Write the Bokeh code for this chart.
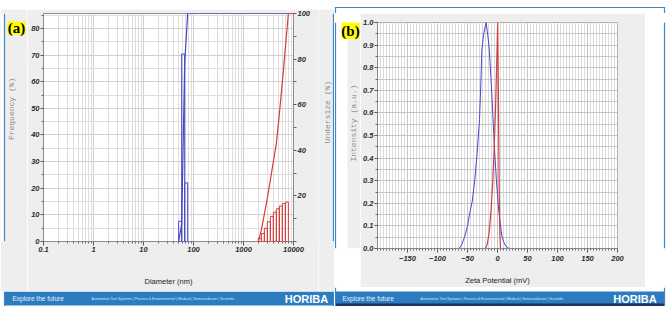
import math
from bokeh.plotting import figure
from bokeh.layouts import row, column
from bokeh.models import (Range1d, LinearAxis, FixedTicker, CustomJSTickFormatter,
                          PrintfTickFormatter)
from bokeh.core.properties import value
from bokeh.embed import file_html
from bokeh.resources import INLINE

# ---------------- (a) particle size distribution ----------------
size_ticks = [0.1, 1, 10, 100, 1000, 10000]
freq_ticks = [0, 10, 20, 30, 40, 50, 60, 70, 80]
under_ticks = [20, 40, 60, 80, 100]

# narrow population (blue): bin edges (nm) and frequency (%)
blue_edges = [50.5, 58.0, 66.6, 76.5]
blue_freq = [7.6, 70.4, 22.0]
# cumulative undersize (%) at diameters (nm)
blue_under_d = [50.5, 58.0, 66.6, 76.5, 10000]
blue_under = [0, 7.6, 78.0, 100, 100]

# coarse population (red)
red_edges = [1981, 2275, 2613, 3000, 3445, 3956, 4543, 5217, 5991, 6879, 7900]
red_freq = [1.2, 3.0, 5.0, 7.4, 9.4, 11.0, 12.3, 13.3, 14.2, 14.8]
red_under_d = [1981, 2275, 2613, 3000, 3445, 3956, 4543, 5217, 5991, 6879, 7900, 10000]
red_under = [0, 5, 12, 19, 27, 35, 43, 56, 70, 85, 100, 100]

# ---------------- (b) zeta potential ----------------
zeta_ticks = [-150, -100, -50, 0, 50, 100, 150, 200]
intensity_ticks = [0.0, 0.1, 0.2, 0.3, 0.4, 0.5, 0.6, 0.7, 0.8, 0.9, 1.0]

zeta_blue_mv = [-64, -60, -55, -50, -46, -42, -38, -34, -30, -28, -26, -23, -19,
                -16, -13.7, -11, -9, -7, -5, -2, 1, 4, 7, 10, 14, 19]
zeta_blue_int = [0.0, 0.015, 0.05, 0.10, 0.16, 0.21, 0.30, 0.42, 0.57, 0.71, 0.88, 0.95, 1.0,
                 0.94, 0.88, 0.76, 0.66, 0.55, 0.44, 0.31, 0.20, 0.12, 0.06, 0.03, 0.01, 0.0]

zeta_red_mv = [-20, -17, -14, -11, -8, -5.5, -3.5, -1.5, 0.3, 1.2, 2.0, 3.0, 4.0, 5.0]
zeta_red_int = [0.0, 0.02, 0.07, 0.16, 0.29, 0.45, 0.60, 0.80, 1.0, 0.78, 0.51, 0.22, 0.06, 0.0]

BLUE = "#4646cc"
RED = "#d43c3c"
GRID = "#cfcfcf"
GRID_MINOR = "#dddddd"
PANEL_GRAY = "#eeeeee"
FOOT_BLUE = "#2c7cc0"
BORDER_BLUE = "#3f86c4"
SANS = "Liberation Sans"
SERIF = "Liberation Serif"
MONO = "Liberation Mono"
FOOT_LINKS = ("Automotive Test Systems  |  Process & Environmental  |  Medical  |  "
              "Semiconductor  |  Scientific")
PAGE_H = 311


def fixed(w, h):
    # pin a layout child to an exact pixel size so flex layout never squeezes it
    return dict(width=w, height=h, min_width=w, max_width=w, min_height=h, max_height=h,
                width_policy="fixed", height_policy="fixed")


def style_axis(ax, size="7.5px"):
    ax.major_label_text_font = SANS
    ax.major_label_text_font_style = "bold italic"
    ax.major_label_text_font_size = size
    ax.major_label_text_color = "#2b2b2b"
    ax.axis_line_color = "#8c8c8c"
    ax.major_tick_line_color = "#555555"
    ax.minor_tick_line_color = "#6a6a6a"
    ax.major_tick_in = 0
    ax.minor_tick_in = 0


# ---------- page furniture (frames, footer bar, panel tags) ----------
# Each strip is a small axis-less figure whose ranges are page pixels. Shapes are cut
# to the strip before drawing and texts go only into the strip that holds them.
class Strip:
    def __init__(self, gx, gy, w, h, bg="white"):
        self.box = (gx, gy, gx + w, gy + h)
        self.fig = figure(**fixed(w, h), title=None,
                          x_range=Range1d(gx, gx + w),
                          y_range=Range1d(PAGE_H - gy - h, PAGE_H - gy),
                          x_axis_type=None, y_axis_type=None,
                          output_backend="svg", toolbar_location=None,
                          min_border_left=0, min_border_right=0,
                          min_border_top=0, min_border_bottom=0,
                          outline_line_color=None, background_fill_color=bg,
                          border_fill_color=bg)

    def rect(self, l, r, t, b, fill):
        x0, y0, x1, y1 = self.box
        l, r, t, b = max(l, x0), min(r, x1), max(t, y0), min(b, y1)
        if l >= r or t >= b:
            return
        self.fig.quad(left=[l], right=[r], top=[PAGE_H - t], bottom=[PAGE_H - b],
                      fill_color=fill, line_color=None)

    def txt(self, x, y, s, size, color="white", font=SANS, style="normal",
            align="left", angle=0.0):
        x0, y0, x1, y1 = self.box
        if not (x0 <= x < x1 and y0 <= y < y1):
            return
        self.fig.text(x=[x], y=[PAGE_H - y], text=[s], text_font=value(font),
                      text_font_size=value(size), text_font_style=style, text_color=color,
                      text_align=align, text_baseline="middle", angle=angle)


def frame_lines(s, l, r, t, b):
    # thin filled bars make the panel border
    s.rect(l - 0.6, l + 0.6, t - 0.6, b + 0.6, BORDER_BLUE)
    s.rect(r - 0.6, r + 0.6, t - 0.6, b + 0.6, BORDER_BLUE)
    s.rect(l - 0.6, r + 0.6, t - 0.6, t + 0.6, BORDER_BLUE)


def footer(s, l, r, tagline_x, links_x, logo_x):
    s.rect(l, r, 291, 305, FOOT_BLUE)
    s.txt(tagline_x, 298, "Explore the future", "6.5px", color="#e8f1fa")
    s.txt(links_x, 298, FOOT_LINKS, "3.6px", color="#d8e6f4")
    s.txt(logo_x, 298.5, "HORIBA", "11px", style="bold", align="center")


def furniture_a(s):
    s.rect(0, 334, 0, 311, "white")
    s.rect(4, 333, 8, 291, PANEL_GRAY)
    footer(s, 4, 333, 12, 91, 306)
    frame_lines(s, 4, 333, 8, 305)
    s.rect(7, 25, 19, 35, "#ffff00")
    s.txt(16, 27.5, "(a)", "15px", color="black", font=SERIF, style="bold", align="center")
    s.txt(10.5, 127, "Frequency (%)", "8px", color="#8a8a8a", font=MONO,
          align="center", angle=math.pi / 2)
    s.txt(327, 131, "Undersize (%)", "8px", color="#8a8a8a", font=MONO,
          align="center", angle=math.pi / 2)
    return s.fig


def furniture_b(s):
    s.rect(334, 669, 0, 311, "white")
    s.rect(347, 645, 13, 287, PANEL_GRAY)
    footer(s, 335, 664, 342, 420, 634.5)
    s.rect(335, 664, 303, 305.5, "#1d2f5c")
    frame_lines(s, 335, 664, 7, 305)
    s.rect(341, 359, 13, 33, "#ffff00")
    s.txt(350, 23.5, "(b)", "15px", color="black", font=SERIF, style="bold", align="center")
    s.txt(353, 135, "Intensity (a.u.)", "8px", color="#8a8a8a", font=MONO,
          align="center", angle=math.pi / 2)
    return s.fig


# ================= panel (a) =================
pa = figure(**fixed(291, 282), title=None, x_axis_type="log",
            x_range=Range1d(0.1, 10000), y_range=Range1d(0, 85.6),
            output_backend="svg", toolbar_location=None,
            min_border_left=16, min_border_right=25, min_border_top=4, min_border_bottom=50,
            background_fill_color="white", border_fill_color=PANEL_GRAY,
            outline_line_color="#8c8c8c")
pa.extra_y_ranges = {"under": Range1d(0, 100)}

minor_log = [m * 10.0 ** e for e in range(-1, 4) for m in range(2, 10)]
xt = FixedTicker(ticks=size_ticks, minor_ticks=minor_log)
yt = FixedTicker(ticks=freq_ticks, minor_ticks=[f + 5 for f in freq_ticks])
pa.xaxis.ticker = xt
pa.xgrid.ticker = xt
pa.yaxis.ticker = yt
pa.ygrid.ticker = yt
pa.xaxis.formatter = CustomJSTickFormatter(code="return String(tick)")
for g in (pa.xgrid, pa.ygrid):
    g.grid_line_color = GRID
    g.minor_grid_line_color = GRID_MINOR

ax_b = pa.below[0]
style_axis(ax_b)
ax_b.major_tick_out = 4
ax_b.minor_tick_out = 2
ax_b.major_label_standoff = 1
ax_b.axis_line_color = None
ax_b.axis_label = "Diameter (nm)"
ax_b.axis_label_text_font = SANS
ax_b.axis_label_text_font_style = "normal"
ax_b.axis_label_text_font_size = "7.5px"
ax_b.axis_label_text_color = "#222222"
ax_b.axis_label_standoff = 22

ax_l = pa.left[0]
style_axis(ax_l)
ax_l.major_tick_out = 3
ax_l.minor_tick_out = 2
ax_l.major_label_standoff = 1

ax_r = LinearAxis(y_range_name="under",
                  ticker=FixedTicker(ticks=under_ticks, minor_ticks=[0, 10, 30, 50, 70, 90]))
style_axis(ax_r)
ax_r.major_tick_out = 3
ax_r.minor_tick_out = 3
ax_r.major_label_standoff = 1
pa.add_layout(ax_r, "right")

# frequency histograms
pa.quad(left=blue_edges[:-1], right=blue_edges[1:], bottom=0, top=blue_freq,
        fill_color=None, line_color=BLUE, line_width=1)
pa.quad(left=red_edges[:-1], right=red_edges[1:], bottom=0, top=red_freq,
        fill_color=None, line_color=RED, line_width=1)
# cumulative undersize curves
pa.line(blue_under_d, blue_under, y_range_name="under", line_color=BLUE, line_width=1.2)
pa.line(red_under_d, red_under, y_range_name="under", line_color=RED, line_width=1.2)

mid_a = row(furniture_a(Strip(0, 9, 27, 282, PANEL_GRAY)), pa,
            furniture_a(Strip(318, 9, 16, 282, PANEL_GRAY)), spacing=0, **fixed(334, 282))
panel_a = column(furniture_a(Strip(0, 0, 334, 9)), mid_a,
                 furniture_a(Strip(0, 291, 334, 17)), spacing=0, **fixed(334, 308))

# ================= panel (b) =================
pb = figure(**fixed(285, 274), title=None,
            x_range=Range1d(-200, 200), y_range=Range1d(0, 1),
            output_backend="svg", toolbar_location=None,
            min_border_left=17, min_border_right=28, min_border_top=9, min_border_bottom=39,
            background_fill_color="white", border_fill_color=PANEL_GRAY,
            outline_line_color="#b0b0b0")

zt = FixedTicker(ticks=zeta_ticks, minor_ticks=list(range(-200, 201, 5)))
it = FixedTicker(ticks=intensity_ticks, minor_ticks=[i / 20 for i in range(1, 20, 2)])
pb.xaxis.ticker = zt
pb.xgrid.ticker = zt
pb.yaxis.ticker = it
pb.ygrid.ticker = it
pb.yaxis.formatter = PrintfTickFormatter(format="%.1f")
pb.xgrid.grid_line_color = "#c4c4c4"
pb.xgrid.minor_grid_line_color = "#dadada"
pb.ygrid.grid_line_color = "#c4c4c4"
pb.ygrid.minor_grid_line_color = "#c8c8c8"

bx = pb.below[0]
style_axis(bx)
bx.major_tick_out = 4
bx.minor_tick_out = 2
bx.major_label_standoff = 3
bx.axis_label = "Zeta Potential (mV)"
bx.axis_label_text_font = SANS
bx.axis_label_text_font_style = "normal"
bx.axis_label_text_font_size = "7.5px"
bx.axis_label_text_color = "#222222"
bx.axis_label_standoff = 12

by = pb.left[0]
style_axis(by)
by.major_tick_out = 3
by.minor_tick_out = 2
by.major_label_standoff = 1

pb.line(zeta_blue_mv, zeta_blue_int, line_color=BLUE, line_width=1)
pb.line(zeta_red_mv, zeta_red_int, line_color=RED, line_width=1.2)

mid_b = row(furniture_b(Strip(334, 13, 26, 274)), pb,
            furniture_b(Strip(645, 13, 24, 274)), spacing=0, **fixed(335, 274))
panel_b = column(furniture_b(Strip(334, 0, 335, 13)), mid_b,
                 furniture_b(Strip(334, 287, 335, 21)), spacing=0, **fixed(335, 308))

page = row(panel_a, panel_b, spacing=0, **fixed(669, 308))
open("out.html", "w").write(file_html(page, INLINE))
